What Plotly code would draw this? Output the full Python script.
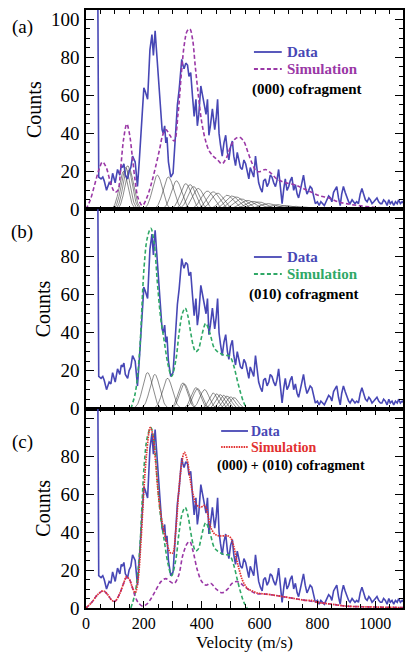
import numpy as np
import plotly.graph_objects as go
from plotly.subplots import make_subplots

# ---------------- data ----------------
data_v = [40, 44, 52, 58, 63, 71, 80, 86, 92, 101, 109, 117, 122, 126, 131, 136, 144, 149, 155, 161, 170, 178, 184, 190, 195,
          200, 205, 213, 221, 225, 228, 233, 239, 245, 253, 259, 263, 267, 272, 276, 280, 285, 293, 301, 310, 316, 322, 331,
          335, 339, 345, 351, 356, 362, 368, 374, 380, 385, 390, 397, 403, 408, 415, 420, 425, 430, 437, 445, 450, 455, 460,
          465, 471, 477, 483, 489, 494, 500, 506, 511, 517, 523, 529, 534, 540, 546, 552, 557, 563, 568, 574, 580, 586, 591,
          597, 603, 609, 614, 620, 626, 632, 637, 643, 649, 655, 660, 666, 672, 678, 684, 689, 695, 701, 706, 712, 718, 724,
          730, 735, 741, 746, 752, 758, 764, 770, 775, 781, 787, 793, 800, 806, 812, 818, 824, 830, 839, 845, 850, 856, 862,
          867, 873, 879, 884, 890, 896, 902, 908, 913, 920, 925, 930, 936, 942, 948, 954, 960, 966, 972, 978, 983, 989, 995,
          1000, 1006, 1012, 1018, 1023, 1029, 1035, 1041, 1047, 1052, 1058, 1064, 1070, 1076, 1081, 1087, 1093, 1099, 1104]
data_c = [140, 17, 16, 17, 15, 10, 14, 13, 19, 14, 21, 18, 23, 22, 24, 18, 16, 20, 22, 28, 25, 12, 25, 40, 53,
          64, 62, 58, 84, 88, 92, 81, 94, 81, 62, 47, 42, 40, 44, 35, 38, 25, 17, 19, 44, 55, 63, 79,
          76, 74, 77, 76, 70, 72, 60, 49, 58, 44, 50, 65, 60, 56, 50, 58, 39, 44, 53, 42, 48, 58, 40,
          34, 28, 35, 39, 30, 26, 33, 36, 28, 23, 30, 26, 22, 21, 26, 24, 20, 16, 22, 19, 17, 28, 20,
          14, 11, 9, 15, 16, 12, 14, 18, 17, 14, 12, 15, 21, 12, 3, 11, 16, 10, 12, 15, 17, 10, 13,
          8, 6, 10, 14, 18, 12, 8, 10, 12, 11, 6, 3, 4, 2, 4, 3, 2, 4, 7, 6, 4, 9, 11,
          12, 6, 2, 8, 12, 9, 6, 4, 3, 5, 4, 3, 4, 3, 8, 11, 8, 5, 4, 6, 5, 3, 4,
          5, 6, 4, 3, 3, 5, 4, 2, 5, 3, 4, 2, 4, 3, 5, 3, 4, 3, 4]

# (000) cofragment simulation, panel (a)
sim000_v = [0, 15, 30, 45, 57, 70, 85, 100, 110, 120, 130, 141, 150, 160, 170, 180, 195, 210, 225, 240, 255, 265, 276,
            290, 305, 318, 330, 340, 350, 359, 368, 378, 390, 400, 412, 425, 440, 455, 470, 485, 500, 515, 530, 545,
            560, 575, 590, 605, 620, 640, 660, 690, 720, 750, 780, 810, 840, 870, 900, 940, 1000, 1060, 1105]
sim000_c = [0, 5, 13, 21, 25, 22, 14, 9, 10, 22, 37, 45, 40, 28, 15, 6, 2, 6, 13, 22, 32, 39, 42,
            39, 36, 50, 72, 87, 94, 95, 90, 75, 58, 46, 37, 31, 28, 26, 24, 27, 33, 37, 38, 36,
            30, 24, 20, 20, 21, 19, 16, 14, 13, 11, 9, 7, 6, 4, 3, 2, 1, 0.5, 0.3]

# (010) cofragment simulation, panels (b) and (c)
sim010_v = [155, 170, 184, 201, 212, 224, 235, 247, 258, 270, 284, 296, 310, 322, 333, 343, 352, 362, 371, 379, 388,
            397, 406, 414, 428, 443, 455, 466, 480, 492, 500, 512, 523, 535, 546, 557]
sim010_c = [0, 8, 27, 75, 90, 95, 88, 66, 48, 36, 23, 17, 25, 40, 50, 53, 49, 40, 33, 30, 31,
            36, 42, 45, 40, 32, 30, 29, 28, 28, 27, 22, 15, 8, 3, 0]

# (000) share in panel (c)
c000_v = [0, 20, 40, 60, 75, 90, 100, 115, 130, 140, 150, 160, 170, 180, 195, 210, 225, 240, 260, 276, 290, 305, 320,
          335, 350, 359, 370, 385, 400, 415, 431, 450, 471, 490, 505, 520, 535, 550, 570, 590, 610, 640, 680, 720,
          760, 800, 850, 900, 1000, 1105]
c000_c = [0, 3, 7, 9, 7, 4, 3.5, 7, 13, 16, 15, 11, 6, 3, 1, 2, 5, 9, 14, 15.5, 14, 13, 17,
          28, 34, 35, 30, 20, 14, 12, 13, 10, 8, 10, 13, 14, 13, 11, 9, 7.5, 7.5, 7, 6, 5,
          4, 3, 2, 1, 0.5, 0.2]

# (000) + (010) total simulation, panel (c)
tot_v = [0, 20, 40, 60, 75, 90, 100, 115, 130, 140, 150, 160, 170, 180, 190, 200, 210, 222, 230, 240, 250, 260, 270,
         280, 292, 300, 310, 320, 330, 340, 350, 360, 370, 380, 395, 410, 420, 430, 445, 460, 475, 490, 500, 510,
         520, 530, 540, 550, 560, 575, 590, 610, 640, 680, 720, 760, 780, 800, 850, 900, 1000, 1105]
tot_c = [0, 3, 7, 9, 7, 4, 3.5, 7, 13, 16.5, 15, 11, 8, 15, 35, 62, 82, 95, 92, 78, 60, 48, 40,
         34, 29, 29, 40, 60, 75, 82, 78, 68, 60, 55, 53, 54, 50, 43, 39, 38, 38, 38, 37, 33,
         26, 20, 15, 12, 10, 9, 8, 7.5, 7, 6, 5, 4, 4, 3, 2, 1, 0.5, 0.2]

# Gaussian components (centre, height, width)
comp_a_center = [130, 137, 144, 150, 247, 285, 313, 345, 360, 372, 388, 420, 440, 455, 488, 505, 520, 537, 558, 578,
                 598, 630, 660, 690, 720, 750]
comp_a_height = [20, 22, 23, 21, 18, 17, 15, 13.5, 13, 12, 11, 9.6, 9.2, 8.5, 7.4, 7, 6.5, 5.5, 4.7, 4.2,
                 3.9, 3.0, 2.5, 2.0, 1.6, 1.2]
comp_a_width = [15, 15, 15, 15, 17, 18, 18, 19, 19, 19, 20, 22, 22, 22, 24, 24, 24, 25, 26, 27,
                28, 30, 32, 34, 36, 38]
comp_b_center = [213, 238, 282, 335, 340, 380, 386, 410, 440, 452, 464, 476, 488, 500, 512]
comp_b_height = [19, 18, 16, 13.5, 13, 11, 10.5, 10, 8.2, 7.8, 7.4, 7, 6.6, 6.2, 5.8]
comp_b_width = [17, 17, 17, 16, 16, 16, 16, 16, 15, 15, 15, 15, 15, 15, 15]

x_ticks = [0, 100, 200, 300, 400, 500, 600, 700, 800, 900, 1000]
x_ticktext = ["0", "", "200", "", "400", "", "600", "", "800", "", "1000"]
y_ticks = [0, 20, 40, 60, 80, 100]

BLUE = "#4747b5"
PURPLE = "#9a38a6"
GREEN = "#2fa866"
RED = "#e23030"
GRAY = "rgba(60,60,60,0.75)"
FONT = "Liberation Serif"
DASH = "4px,2.5px"
DOT = "1.5px,1px"

fig = make_subplots(rows=3, cols=1, shared_xaxes=True, vertical_spacing=0)

grid = np.arange(0, 1101, 2.0)


def add_components(centers, heights, widths, row):
    for c, h, w in zip(centers, heights, widths):
        y = h * np.exp(-0.5 * ((grid - c) / w) ** 2)
        m = y > 0.05
        fig.add_trace(go.Scatter(x=grid[m], y=y[m], mode="lines",
                                 line=dict(color=GRAY, width=0.8), showlegend=False,
                                 hoverinfo="skip"), row=row, col=1)


# panel (a)
add_components(comp_a_center, comp_a_height, comp_a_width, 1)
fig.add_trace(go.Scatter(x=data_v, y=data_c, mode="lines", line=dict(color=BLUE, width=1.6),
                         showlegend=False), row=1, col=1)
fig.add_trace(go.Scatter(x=sim000_v, y=sim000_c, mode="lines", line_shape="spline",
                         line=dict(color=PURPLE, width=1.6, dash=DASH), showlegend=False), row=1, col=1)

# panel (b)
add_components(comp_b_center, comp_b_height, comp_b_width, 2)
fig.add_trace(go.Scatter(x=data_v, y=data_c, mode="lines", line=dict(color=BLUE, width=1.6),
                         showlegend=False), row=2, col=1)
fig.add_trace(go.Scatter(x=sim010_v, y=sim010_c, mode="lines", line_shape="spline",
                         line=dict(color=GREEN, width=1.6, dash=DASH), showlegend=False), row=2, col=1)

# panel (c)
fig.add_trace(go.Scatter(x=data_v, y=data_c, mode="lines", line=dict(color=BLUE, width=1.6),
                         showlegend=False), row=3, col=1)
fig.add_trace(go.Scatter(x=sim010_v, y=sim010_c, mode="lines", line_shape="spline",
                         line=dict(color=GREEN, width=1.6, dash=DASH), showlegend=False), row=3, col=1)
fig.add_trace(go.Scatter(x=c000_v, y=c000_c, mode="lines", line_shape="spline",
                         line=dict(color=PURPLE, width=1.6, dash=DASH), showlegend=False), row=3, col=1)
fig.add_trace(go.Scatter(x=tot_v, y=tot_c, mode="lines", line_shape="spline",
                         line=dict(color=RED, width=1.7, dash=DOT), showlegend=False), row=3, col=1)

# axes
for r in (1, 2, 3):
    fig.update_xaxes(row=r, col=1, range=[0, 1096], tickmode="array", tickvals=x_ticks,
                     ticktext=x_ticktext if r == 3 else [""] * len(x_ticks),
                     showticklabels=(r == 3),
                     ticks="inside", ticklen=7, tickwidth=1.2, tickcolor="black",
                     minor=dict(dtick=50, tick0=0, ticks="inside", ticklen=4, tickcolor="black"),
                     showline=True, linecolor="black", linewidth=1.6, mirror="ticks",
                     showgrid=False, zeroline=False,
                     tickfont=dict(family=FONT, size=16, color="black"))
    ytext = ["0", "20", "40", "60", "80", "100" if r == 1 else ""]
    fig.update_yaxes(row=r, col=1, range=[0, 105], tickmode="array", tickvals=y_ticks, ticktext=ytext,
                     ticks="inside", ticklen=8, tickwidth=1.2, tickcolor="black",
                     minor=dict(dtick=5, tick0=0, ticks="inside", ticklen=4, tickcolor="black"),
                     showline=True, linecolor="black", linewidth=1.6, mirror="ticks",
                     showgrid=False, zeroline=False, ticklabelstandoff=1,
                     tickfont=dict(family=FONT, size=19, color="black"),
                     title=dict(text="Counts", font=dict(family=FONT, size=20, color="black"), standoff=4))

# legends & labels (pixel helpers -> paper coords)
L, T_, B_, W, H = 86, 10, 608, 319, 598


def px(x):
    return (x - L) / W


def py(y):
    return (B_ - y) / H


def legend_line(x0, x1, y, color, dash):
    fig.add_shape(type="line", xref="paper", yref="paper", x0=px(x0), x1=px(x1), y0=py(y), y1=py(y),
                  line=dict(color=color, width=1.8, dash=dash))


def label(x, y, text, color, size=15, bold=True, anchor="left", yanchor="middle"):
    fig.add_annotation(xref="paper", yref="paper", x=px(x), y=py(y), text=f"<b>{text}</b>" if bold else text,
                       showarrow=False, xanchor=anchor, yanchor=yanchor,
                       font=dict(family=FONT, size=size, color=color))


# x-axis title, placed at the bottom edge
fig.add_annotation(xref="paper", yref="paper", x=0.5, y=py(653), text="Velocity (m/s)", showarrow=False,
                   xanchor="center", yanchor="bottom", yshift=-1,
                   font=dict(family=FONT, size=17, color="black"))

# (a)
legend_line(255, 283, 52, BLUE, "solid")
label(286, 52, "Data", BLUE)
legend_line(255, 283, 69, PURPLE, DASH)
label(286, 69, "Simulation", PURPLE)
label(251, 89, "(000) cofragment", "black")
# (b)
legend_line(255, 283, 257, BLUE, "solid")
label(286, 257, "Data", BLUE)
legend_line(255, 283, 274, GREEN, DASH)
label(286, 274, "Simulation", GREEN)
label(248, 294, "(010) cofragment", "black")
# (c)
legend_line(222, 249, 431, BLUE, "solid")
label(250, 431, "Data", BLUE, size=14)
legend_line(222, 249, 447, RED, DOT)
label(250, 447, "Simulation", RED, size=14)
label(216, 466, "(000) + (010) cofragment", "black", size=14)

label(22, 27, "(a)", "black", size=19, bold=False, anchor="center")
label(22, 232, "(b)", "black", size=19, bold=False, anchor="center")
label(22, 442, "(c)", "black", size=19, bold=False, anchor="center")

fig.update_layout(width=406, height=653, margin=dict(l=86, r=1, t=10, b=45),
                  plot_bgcolor="white", paper_bgcolor="white", showlegend=False,
                  font=dict(family=FONT, color="black"))

fig.write_html("out.html")
